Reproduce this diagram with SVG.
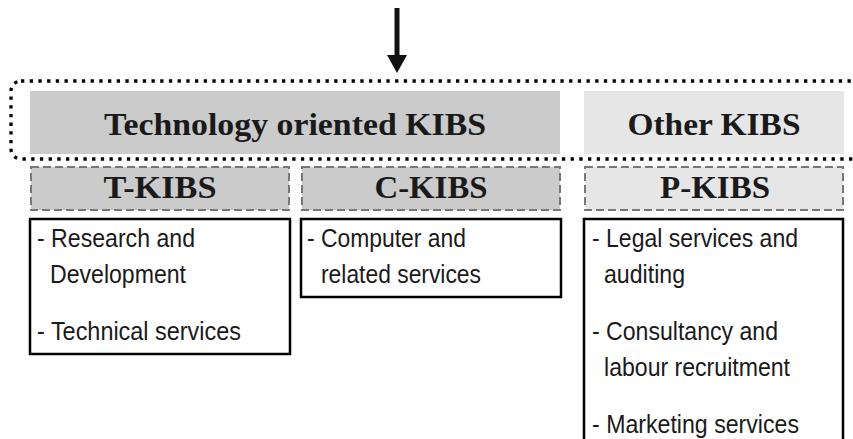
<svg xmlns="http://www.w3.org/2000/svg" width="853" height="439" viewBox="0 0 853 439">
  <style>
    .head { font-family: "Liberation Serif", "Times New Roman", serif; font-weight: bold; font-size: 32px; fill: #1a1a1a; text-anchor: middle; }
    .item { font-family: "Liberation Sans", Arial, sans-serif; font-size: 26px; fill: #1a1a1a; }
    .dark { fill: #cbcbcb; }
    .light { fill: #e6e6e6; }
    .dash { stroke: #777777; stroke-width: 2; stroke-dasharray: 8 4; }
    .list { fill: #ffffff; stroke: #000000; stroke-width: 2.5; }
  </style>

  <!-- dotted outline grouping the upper category row -->
  <g id="scope">
    <rect x="11" y="81" width="900" height="78" rx="10" ry="10" fill="none" stroke="#000000" stroke-width="3.3" stroke-dasharray="3.3 5.4"/>
  </g>

  <!-- incoming arrow -->
  <g id="connectors">
    <line x1="397" y1="8" x2="397" y2="58" stroke="#111111" stroke-width="5"/>
    <polygon points="387,55 407,55 397,73" fill="#111111"/>
  </g>

  <g id="technology-kibs">
    <rect class="dark" x="30" y="91" width="530" height="63"/>
    <text class="head" x="295" y="135" textLength="382" lengthAdjust="spacingAndGlyphs">Technology oriented KIBS</text>
  </g>

  <g id="other-kibs">
    <rect class="light" x="584" y="91" width="260" height="63"/>
    <text class="head" x="714" y="135" textLength="173" lengthAdjust="spacingAndGlyphs">Other KIBS</text>
  </g>

  <g id="t-kibs">
    <rect class="dark dash" x="31" y="167" width="258" height="43"/>
    <text class="head" x="160" y="198" textLength="113" lengthAdjust="spacingAndGlyphs">T-KIBS</text>
  </g>

  <g id="c-kibs">
    <rect class="dark dash" x="302" y="167" width="258" height="43"/>
    <text class="head" x="431" y="198" textLength="113" lengthAdjust="spacingAndGlyphs">C-KIBS</text>
  </g>

  <g id="p-kibs">
    <rect class="light dash" x="585" y="167" width="258" height="43"/>
    <text class="head" x="715" y="198" textLength="110" lengthAdjust="spacingAndGlyphs">P-KIBS</text>
  </g>

  <g id="t-kibs-list">
    <rect class="list" x="30" y="219" width="260" height="135"/>
    <text class="item" x="37" y="247" textLength="158" lengthAdjust="spacingAndGlyphs">- Research and</text>
    <text class="item" x="50" y="283" textLength="136" lengthAdjust="spacingAndGlyphs">Development</text>
    <text class="item" x="37" y="340" textLength="204" lengthAdjust="spacingAndGlyphs">- Technical services</text>
  </g>

  <g id="c-kibs-list">
    <rect class="list" x="301" y="219" width="260" height="78"/>
    <text class="item" x="307" y="247" textLength="159" lengthAdjust="spacingAndGlyphs">- Computer and</text>
    <text class="item" x="321" y="283" textLength="160" lengthAdjust="spacingAndGlyphs">related services</text>
  </g>

  <g id="p-kibs-list">
    <rect class="list" x="584" y="219" width="259" height="240"/>
    <text class="item" x="592" y="247" textLength="206" lengthAdjust="spacingAndGlyphs">- Legal services and</text>
    <text class="item" x="604" y="283" textLength="81" lengthAdjust="spacingAndGlyphs">auditing</text>
    <text class="item" x="592" y="340" textLength="186" lengthAdjust="spacingAndGlyphs">- Consultancy and</text>
    <text class="item" x="604" y="376" textLength="186" lengthAdjust="spacingAndGlyphs">labour recruitment</text>
    <text class="item" x="592" y="433" textLength="207" lengthAdjust="spacingAndGlyphs">- Marketing services</text>
  </g>
</svg>
